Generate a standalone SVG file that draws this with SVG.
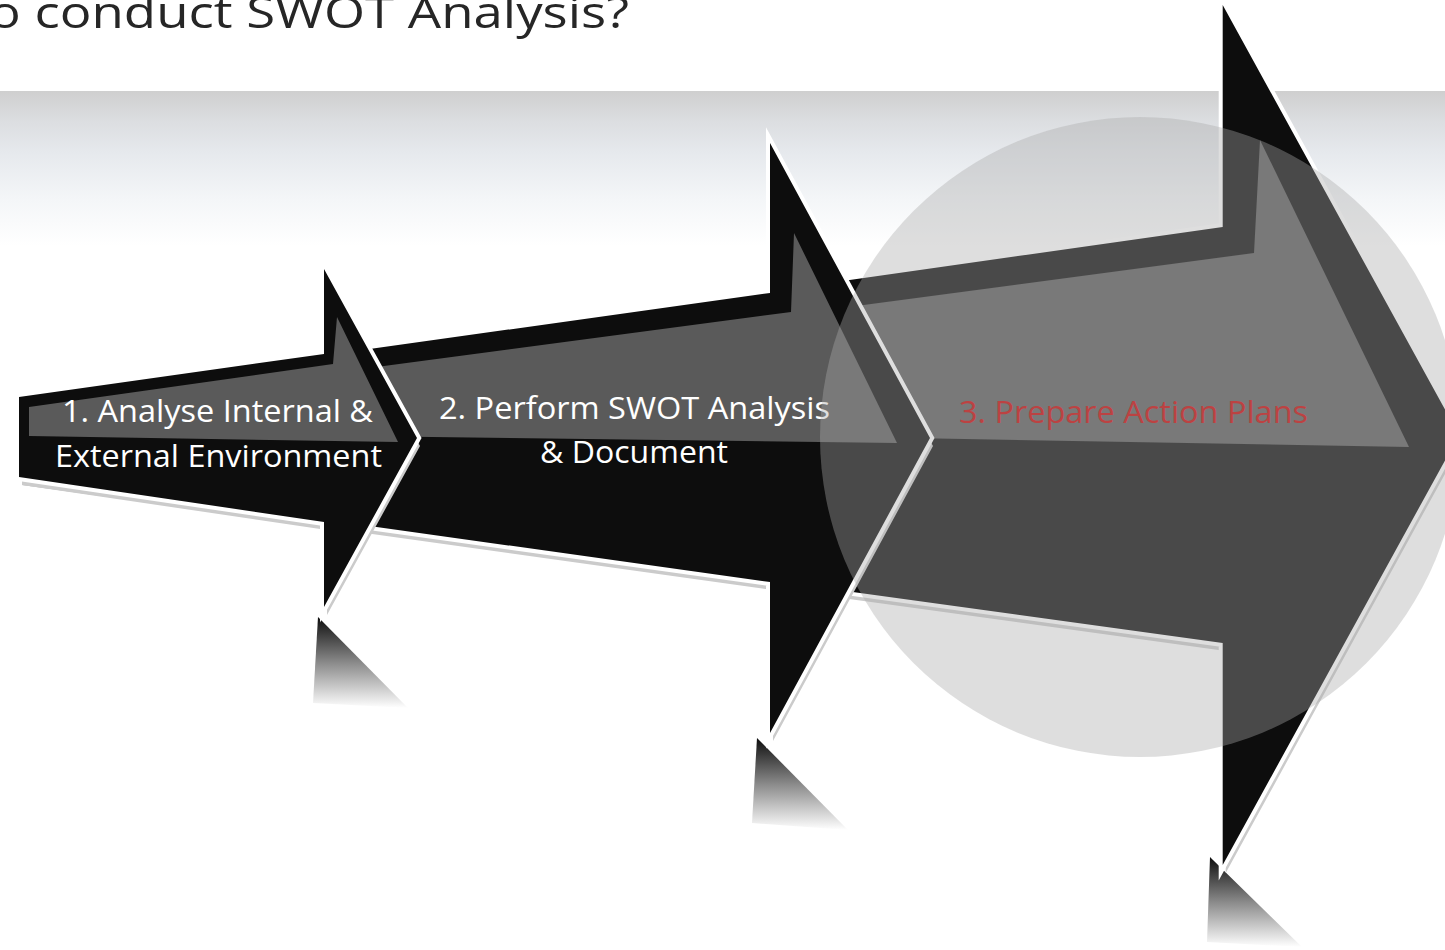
<svg xmlns="http://www.w3.org/2000/svg" xmlns:xlink="http://www.w3.org/1999/xlink" width="1445" height="950" viewBox="0 0 1445 950">
  <defs>
    <linearGradient id="band" x1="0" y1="0" x2="0" y2="1">
      <stop offset="0" stop-color="#cfcfcf"/>
      <stop offset="0.2" stop-color="#dcdee1"/>
      <stop offset="0.4" stop-color="#e6e9ed"/>
      <stop offset="0.7" stop-color="#f4f6f8"/>
      <stop offset="1" stop-color="#ffffff"/>
    </linearGradient>
    <linearGradient id="refl" x1="0" y1="0" x2="0" y2="1">
      <stop offset="0" stop-color="#0d0d0d"/>
      <stop offset="0.5" stop-color="#8a8a8a"/>
      <stop offset="1" stop-color="#ffffff"/>
    </linearGradient>
    <polygon id="a3" points="19,398 1222.7,227 1222.7,5 1459,435 1222.7,865 1222.7,643 19,477"/>
    <polygon id="a2" points="19,398 770,293 770,143 930,438 770,733 770,582 19,477"/>
    <polygon id="a1" points="19,397 324,354 324,269 417,438 324,607 324,522 19,477"/>
  </defs>
  <style>
    .shadow { fill: #cbcbcb; }
    .body { fill: #0d0d0d; stroke: #ffffff; stroke-width: 8; stroke-linejoin: miter; stroke-miterlimit: 10; paint-order: stroke; }
    .hl { fill: #5a5a5a; }
    .refl { fill: url(#refl); }
    .lbl { font-family: "Open Sans", "Noto Sans", sans-serif; font-size: 31px; fill: #ffffff; }
    .title { font-family: "Open Sans", "Noto Sans", sans-serif; font-size: 44px; fill: #262626; }
  </style>

  <rect x="0" y="0" width="1445" height="950" fill="#ffffff"/>
  <rect id="band-bg" x="0" y="91" width="1445" height="155" fill="url(#band)"/>

  <g id="title">
    <text class="title" x="-11" y="28" textLength="640" lengthAdjust="spacingAndGlyphs">o conduct SWOT Analysis?</text>
  </g>

  <g id="connectors"></g>

  <g id="step3">
    <polygon class="refl" points="1210,857 1213,860 1302,947 1207,942"/>
    <use xlink:href="#a3" href="#a3" class="shadow" transform="translate(3,8)"/>
    <use xlink:href="#a3" href="#a3" class="body"/>
    <polygon class="hl" points="29,416 1254,253 1260,140 1409,447 29,422"/>
    <text class="lbl" x="959" y="423" textLength="349" lengthAdjust="spacingAndGlyphs" style="fill:#c80000">3. Prepare Action Plans</text>
  </g>

  <g id="step2">
    <polygon class="refl" points="757,738 760,741 848,830 752,823"/>
    <use xlink:href="#a2" href="#a2" class="shadow" transform="translate(3,8)"/>
    <use xlink:href="#a2" href="#a2" class="body"/>
    <polygon class="hl" points="29,413 791,312 794,233 897,443 29,432"/>
    <text class="lbl" x="439" y="419" textLength="391" lengthAdjust="spacingAndGlyphs">2. Perform SWOT Analysis</text>
    <text class="lbl" x="540" y="463" textLength="188" lengthAdjust="spacingAndGlyphs">&amp; Document</text>
  </g>

  <g id="step1">
    <polygon class="refl" points="318,617 321,620 408,708 313,703"/>
    <use xlink:href="#a1" href="#a1" class="shadow" transform="translate(3,8)"/>
    <use xlink:href="#a1" href="#a1" class="body"/>
    <polygon class="hl" points="29,407 333,364 337,317 398,442 29,436"/>
    <text class="lbl" x="62" y="422" textLength="311" lengthAdjust="spacingAndGlyphs">1. Analyse Internal &amp;</text>
    <text class="lbl" x="55" y="467" textLength="327" lengthAdjust="spacingAndGlyphs">External Environment</text>
  </g>

  <g id="highlight-circle">
    <circle cx="1140" cy="437" r="320" fill="#aaaaaa" fill-opacity="0.39"/>
  </g>
</svg>
